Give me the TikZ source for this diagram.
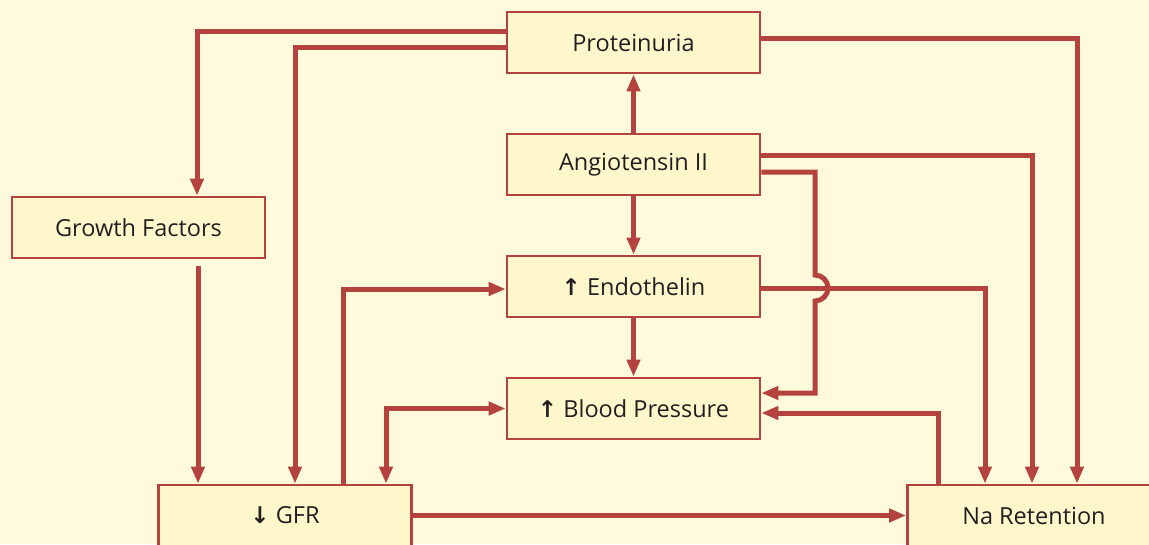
\documentclass[tikz,border=0pt]{standalone}
\usepackage{fontspec}
\setmainfont{Open Sans}
\newfontfamily\arr{DejaVu Sans}
\usetikzlibrary{arrows.meta,calc}
\definecolor{bgcol}{HTML}{FFFADC}
\definecolor{boxfill}{HTML}{FFF7CC}
\definecolor{lred}{HTML}{B4423F}
\definecolor{txt}{HTML}{231F20}
\newcommand{\upar}{{\arr\bfseries\fontsize{23}{24}\selectfont ↑}}
\newcommand{\dnar}{{\arr\bfseries\fontsize{23}{24}\selectfont ↓}}
\begin{document}
\begin{tikzpicture}[x=1pt,y=-1pt,
  box/.style={draw=lred, line width=2.7pt, fill=boxfill, minimum width=253pt, minimum height=61pt, inner sep=0pt, font=\fontsize{23.5}{26}\selectfont, text=txt},
  conn/.style={draw=lred, line width=5pt, -{Triangle[length=17pt,width=13pt]}},
  both/.style={draw=lred, line width=5pt, {Triangle[length=17pt,width=13pt]}-{Triangle[length=17pt,width=13pt]}},
  plain/.style={draw=lred, line width=5pt}]
\fill[bgcol] (0,0) rectangle (1149,544);
\useasboundingbox (0,0) rectangle (1149,544);
\node[box] (P) at (633.5,42.5) {Proteinuria};
\node[box] (A) at (633.5,164.5) {Angiotensin II};
\node[box] (E) at (633.5,286.5) {\upar\ Endothelin};
\node[box] (B) at (633.5,408.5) {\upar\ Blood Pressure};
\node[box] (G) at (138.5,227.5) {Growth Factors};
\node[box] (F) at (285,515.5) {\dnar\ GFR};
\node[box] (N) at (1034,515.5) {Na Retention};
% Proteinuria connections
\draw[conn] ([yshift=11.5pt]P.west) -| ([xshift=58.5pt]G.north);
\draw[conn] ([yshift=-5pt]P.west) -| ([xshift=10pt]F.north);
\draw[conn] ([yshift=4pt]P.east) -| ([xshift=43pt]N.north);
% Angiotensin
\draw[conn] (A.north) -- (P.south);
\draw[conn] (A.south) -- (E.north);
\draw[conn] ([yshift=9pt]A.east) -| ([xshift=-2pt]N.north);
\coordinate (h1) at (815,172);
\coordinate (h2) at (815,275);
\coordinate (h4) at (815,393);
\draw[conn] ([yshift=-7.5pt]A.east) -- (h1) -- (h2) arc[start angle=90,end angle=-90,radius=13pt] -- (h4) -- ([yshift=15.5pt]B.east);
% Endothelin
\draw[conn] ([yshift=-1.5pt]E.east) -| ([xshift=-49pt]N.north);
\draw[conn] (E.south) -- (B.north);
% GFR
\draw[conn] ([xshift=58pt]F.north) |- ([yshift=-2.5pt]E.west);
\draw[both] ([xshift=101pt]F.north) |- (B.west);
\draw[conn] ([xshift=59.5pt,yshift=-7pt]G.south) coordinate (gs) -- (gs |- F.north);
\draw[conn] (F.east) -- (N.west);
% Na retention
\draw[conn] ([xshift=-96pt]N.north) |- ([yshift=-4.5pt]B.east);
\end{tikzpicture}
\end{document}
